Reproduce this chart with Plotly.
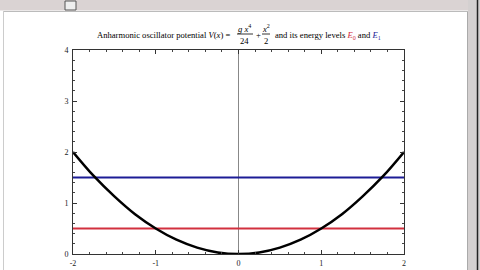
import plotly.graph_objects as go

# ---- data ----
x_pts = [-2.0, -1.75, -1.5, -1.25, -1.0, -0.75, -0.5, -0.25, 0.0, 0.25, 0.5, 0.75, 1.0, 1.25, 1.5, 1.75, 2.0]
v_pts = [2.0, 1.53, 1.13, 0.78, 0.5, 0.28, 0.125, 0.03, 0.0, 0.03, 0.125, 0.28, 0.5, 0.78, 1.13, 1.53, 2.0]
E0 = 0.5
E1 = 1.5
x_range = [-2, 2]
y_range = [0, 4]
x_ticks = [-2, -1, 0, 1, 2]
y_ticks = [0, 1, 2, 3, 4]

W, H = 480, 270
def px(x):
    return x / W
def py(y):
    return 1 - y / H

fig = go.Figure()
fig.add_trace(go.Scatter(x=x_range, y=[E0, E0], mode="lines",
                         line=dict(color="#d2303f", width=2), hoverinfo="skip"))
fig.add_trace(go.Scatter(x=x_range, y=[E1, E1], mode="lines",
                         line=dict(color="#1c1c96", width=2), hoverinfo="skip"))
fig.add_trace(go.Scatter(x=x_pts, y=v_pts, mode="lines", line_shape="spline",
                         line=dict(color="black", width=2.5), hoverinfo="skip"))

axis_common = dict(
    showgrid=False, zeroline=False, showline=True, linecolor="#333", linewidth=1,
    mirror="allticks", ticks="inside", ticklen=4, tickcolor="#333", tickwidth=1,
    tickfont=dict(family="Liberation Serif", size=8, color="#222"),
    minor=dict(ticks="inside", ticklen=2, tickcolor="#444", tickwidth=1, dtick=0.2, showgrid=False),
)
fig.update_layout(
    template="none",
    width=W, height=H, margin=dict(l=0, r=0, t=0, b=0),
    paper_bgcolor="white", plot_bgcolor="white", showlegend=False,
    xaxis=dict(range=x_range, tickvals=x_ticks, ticktext=[str(t) for t in x_ticks],
               domain=[px(73), px(404)], ticklabelstandoff=1, **axis_common),
    yaxis=dict(range=y_range, tickvals=y_ticks, ticktext=[str(t) for t in y_ticks],
               domain=[py(254), py(50)], ticklabelstandoff=2, **axis_common),
)

# y-axis line at x=0 (gray)
fig.add_shape(type="line", xref="x", yref="y", x0=0, x1=0, y0=y_range[0], y1=y_range[1],
              line=dict(color="#888", width=1), layer="below")

# window chrome
fig.add_shape(type="rect", xref="paper", yref="paper", x0=0, x1=1, y0=py(10.5), y1=1,
              fillcolor="#dad3d3", line_width=0, layer="below")
fig.add_shape(type="rect", xref="paper", yref="paper", x0=px(65), x1=px(76), y0=py(10), y1=py(1),
              fillcolor="#eeeeee", line=dict(color="#555", width=1), layer="below")
fig.add_shape(type="rect", xref="paper", yref="paper", x0=px(468), x1=1, y0=0, y1=1,
              fillcolor="#d4d0d0", line_width=0, layer="below")
fig.add_shape(type="line", xref="paper", yref="paper", x0=px(477.5), x1=px(477.5), y0=0, y1=1,
              line=dict(color="#222", width=1.5))
fig.add_shape(type="line", xref="paper", yref="paper", x0=px(467.5), x1=px(467.5), y0=0, y1=py(11),
              line=dict(color="#aaa", width=1))
fig.add_shape(type="line", xref="paper", yref="paper", x0=px(3), x1=px(468), y0=py(11.5), y1=py(11.5),
              line=dict(color="#bbb", width=1))
fig.add_shape(type="line", xref="paper", yref="paper", x0=px(3.5), x1=px(3.5), y0=0, y1=py(11),
              line=dict(color="#ccc", width=1))

# title pieces
FS = 8.6
def ann(text, x, y, xanchor="left", color="black"):
    fig.add_annotation(text=text, x=px(x), y=py(y), xref="paper", yref="paper",
                       xanchor=xanchor, yanchor="middle", showarrow=False,
                       font=dict(family="Liberation Serif", size=FS, color=color))

ann("Anharmonic oscillator potential <i>V</i>(<i>x</i>) =", 232, 35, xanchor="right")
ann("<i>g x</i><sup>4</sup>", 245, 28, xanchor="center")
ann("24", 245, 41, xanchor="center")
fig.add_shape(type="line", xref="paper", yref="paper", x0=px(237), x1=px(253), y0=py(34), y1=py(34),
              line=dict(color="black", width=0.8))
ann("+", 258, 35, xanchor="center")
ann("<i>x</i><sup>2</sup>", 266, 28, xanchor="center")
ann("2", 266, 41, xanchor="center")
fig.add_shape(type="line", xref="paper", yref="paper", x0=px(262), x1=px(270), y0=py(34), y1=py(34),
              line=dict(color="black", width=0.8))
ann("and its energy levels <span style='color:#d2303f'><i>E</i><sub>0</sub></span> and "
    "<span style='color:#1c1c96'><i>E</i><sub>1</sub></span>", 273, 35)

fig.write_html("out.html")
